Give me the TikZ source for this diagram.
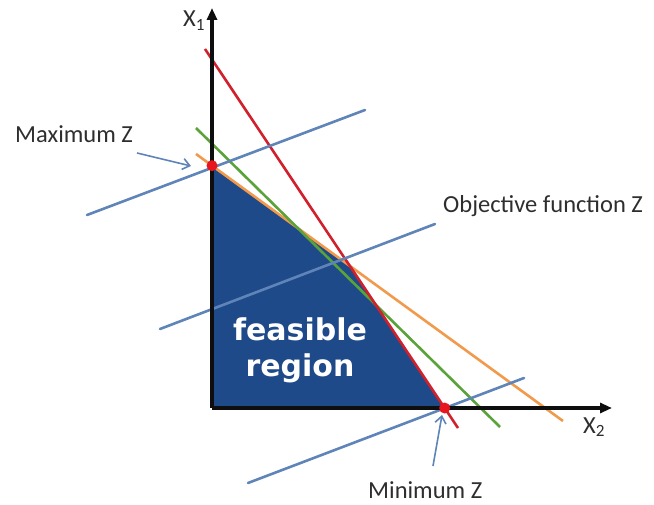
\documentclass[tikz,border=0pt]{standalone}
\usepackage{fontspec}
\setmainfont{Carlito}
\newfontfamily\regionfont{DejaVu Sans}
\usetikzlibrary{arrows.meta, positioning, calc}
\definecolor{AxisInk}{HTML}{0E0E0E}
\definecolor{LabelInk}{HTML}{2E2E2E}
\definecolor{RegionFill}{HTML}{1E4A8A}
\definecolor{ObjLine}{HTML}{5F84B8}
\definecolor{ConRed}{HTML}{D0202C}
\definecolor{ConGreen}{HTML}{5AA23A}
\definecolor{ConOrange}{HTML}{F29A4C}
\definecolor{OptDot}{HTML}{E8141E}

\begin{document}
\begin{tikzpicture}[
    x=1pt, y=-1pt,
    axis/.style={
      draw=AxisInk,
      line width=3.4pt,
      -{Triangle[length=12pt,width=10pt]},
    },
    constraint/.style={
      line width=2.6pt,
    },
    objline/.style={
      draw=ObjLine,
      line width=2.6pt,
      line cap=round,
    },
    pointer/.style={
      draw=ObjLine,
      line width=1.6pt,
      -{Straight Barb[length=7pt,width=11pt]},
    },
    lbl/.style={
      font=\fontsize{24.5}{28}\selectfont,
      text=LabelInk,
      inner sep=0pt,
      anchor=base west,
    },
    optdot/.style={
      circle,
      fill=OptDot,
      minimum size=11pt,
      inner sep=0pt,
    },
  ]
    \useasboundingbox (0,0) rectangle (654,505);

    % axes and constraint lines
    \coordinate (O) at (212,408);
    \coordinate (x1tip) at (212,8);
    \coordinate (x2tip) at (612,408);
    \coordinate (r1) at (205,49);
    \coordinate (r2) at (458,428);
    \coordinate (o1) at (196,154);
    \coordinate (o2) at (563,421);
    \coordinate (g1) at (196,128);
    \coordinate (g2) at (500,427);
    \coordinate (maxZ) at (intersection of o1--o2 and O--x1tip);
    \coordinate (minZ) at (intersection of r1--r2 and O--x2tip);
    \coordinate (V) at (intersection of o1--o2 and r1--r2);

    \fill[RegionFill] (O) -- (maxZ) -- (V) -- (minZ) -- cycle;
    \node[
      font=\regionfont\bfseries\fontsize{30}{36}\selectfont,
      text=white,
      align=center,
      inner sep=0pt,
    ] (region) at (300,350) {feasible\\region};

    \draw[constraint, ConOrange] (o1) -- (o2);
    \draw[constraint, ConGreen] (g1) -- (g2);
    \draw[constraint, ConRed] (r1) -- (r2);

    % objective function, three positions
    \coordinate (b1a) at (87,215);
    \coordinate (b1b) at (365,110);
    \coordinate (b2a) at (160,329);
    \coordinate (b2b) at (435,224);
    \coordinate (b3a) at (248,483);
    \coordinate (b3b) at (524,378);
    \foreach \a/\b in {b1a/b1b, b2a/b2b, b3a/b3b}
      \draw[objline] (\a) -- (\b);

    \draw[axis] (O) -- (x1tip);
    \draw[axis] (O) -- (x2tip);

    \node[optdot] (maxdot) at (maxZ) {};
    \node[optdot] (mindot) at (minZ) {};

    \node[lbl] (xone) at (183,27) {X\textsubscript{1}};
    \node[lbl] (xtwo) at (583,433) {X\textsubscript{2}};
    \node[lbl] (maxlbl) at (15,143) {Maximum Z};
    \node[lbl] (objlbl) at (443,213) {Objective function Z};
    \node[lbl] (minlbl) at (368,498) {Minimum Z};

    \coordinate (maxtail) at (137,153);
    \coordinate (maxhead) at (191,166);
    \coordinate (mintail) at (433,466);
    \coordinate (minhead) at (442,415);
    \draw[pointer] (maxtail) -- (maxhead);
    \draw[pointer] (mintail) -- (minhead);
  \end{tikzpicture}
\end{document}
